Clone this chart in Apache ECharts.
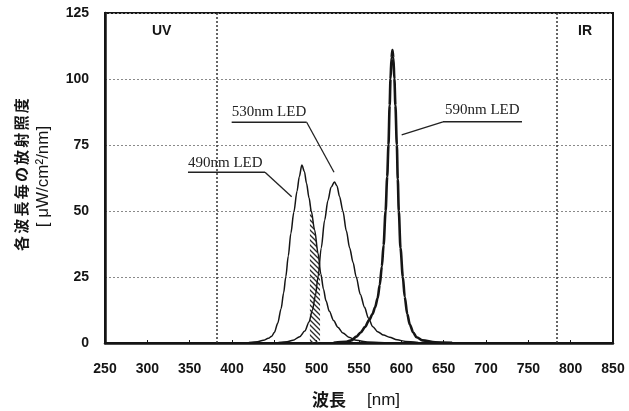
<!DOCTYPE html>
<html><head><meta charset="utf-8">
<script src="https://cdn.jsdelivr.net/npm/echarts@6/dist/echarts.min.js"></script>
<style>html,body{margin:0;padding:0;background:#fff}#c{width:629px;height:411px}</style>
</head><body><div id="c"></div>
<script>
// ---- data ----
const xTicks = [250,300,350,400,450,500,550,600,650,700,750,800,850];
const yTicks = [0,25,50,75,100,125];
const seriesNames = ['490nm LED','530nm LED','590nm LED'];
// [wavelength nm, irradiance µW/cm²/nm]
const led490 = [[420,0.2],[430,0.5],[437,1],[443,1.8],[447,2.6],[450,4],[454,7.5],[458,13],[461,19],[463.5,25],[466.5,33],[469.5,41.5],[473,49.5],[476.8,57.5],[479.5,63],[482.5,67.4],[485.5,65],[488,60.5],[491,55],[493.6,50],[497.6,42.8],[501.6,34],[505,26],[508,20.5],[511,16],[515,12],[520,8.5],[525,6],[531,3.8],[538,2.2],[547,1],[560,0.4],[580,0.1]];
const led530 = [[455,0.2],[465,0.5],[472,1],[480,2.4],[486,4.5],[491,8],[495,12.5],[498.5,18],[501.6,25],[505.4,36],[509.4,46.5],[513.3,54],[517,59],[521,61],[524,59.5],[527,55.5],[531,50],[535,42.5],[539,36],[543,30.5],[546.7,25],[551.5,18.5],[556.6,13.5],[561,9.5],[566.3,6.2],[572,4.3],[579,3],[586,2.2],[595,1.2],[605,0.6],[620,0.2]];
const led590 = [[520,0.1],[535,0.5],[541,1],[547,2.4],[552,4],[557,6],[562,8.7],[566,11],[569,13.5],[572,17],[574.5,22],[577,29],[579,37],[581.4,50],[583.3,63],[584.8,75],[586.2,90],[587.2,100],[588.4,108],[589.5,111],[590.6,108],[591.8,100],[593,90],[594.7,75],[595.8,62],[597,50],[599,36],[601.8,25],[604,17.5],[607,11],[610,7],[614,4],[618,2.2],[625,1],[640,0.3],[660,0.1]];
const hatch500 = [[492,53],[494,49.2],[496,45.8],[498,42],[500,37.5],[502,33],[504,28.5]];
const regionLines = [382, 784];
const regionLabels = ['UV','IR'];
const regionLabelPos = [[317,118],[817,118]];
// annotation anchors in data space: text left, underline start, underline end, leader tip
const annotations = [
  {text:'490nm LED', at:[348,68.2], u0:[348,64.7], u1:[439,64.7], tip:[470.5,55.4], from:'u1'},
  {text:'530nm LED', at:[399.6,87.6], u0:[399.6,83.6], u1:[488.2,83.6], tip:[520.5,64.7], from:'u1'},
  {text:'590nm LED', at:[651.6,88.3], u0:[649.2,83.8], u1:[742.5,83.8], tip:[600.4,78.8], from:'u0'}
];
const yTitle1 = '各波長毎の放射照度';
const yTitle2 = '[ μW/cm²/nm]';
const xTitleA = '波長';
const xTitleB = '[nm]';

// ---- chart ----
const chart = echarts.init(document.getElementById('c'), null, {renderer:'canvas'});
const pc = document.createElement('canvas'); pc.width = 5; pc.height = 5;
const g = pc.getContext('2d'); g.strokeStyle = '#2a2a2a'; g.lineWidth = 1.3;
g.beginPath(); g.moveTo(-1,-1); g.lineTo(6,6); g.moveTo(-1,4); g.lineTo(1,6); g.moveTo(4,-1); g.lineTo(6,1); g.stroke();

const ink = '#151515';
const numFont = '"Liberation Sans", Arial, sans-serif';
const lineSeries = (name, data, w) => ({
  name, type:'line', data, smooth:0.3, smoothMonotone:'x', symbol:'none', z:3,
  lineStyle:{color:ink, width:w}
});

chart.setOption({
  animation:false,
  backgroundColor:'#fff',
  grid:{left:105, right:16, top:13, bottom:68, show:true, borderColor:ink, borderWidth:2, backgroundColor:'transparent'},
  xAxis:{type:'value', min:xTicks[0], max:xTicks[xTicks.length-1], interval:50,
    axisLine:{show:true, onZero:false, lineStyle:{color:ink, width:2.5}},
    axisTick:{show:true, inside:true, length:3, lineStyle:{color:ink}},
    splitLine:{show:false},
    axisLabel:{margin:19, color:ink, fontFamily:numFont, fontWeight:'bold', fontSize:14}},
  yAxis:{type:'value', min:yTicks[0], max:yTicks[yTicks.length-1], interval:25,
    axisLine:{show:true, lineStyle:{color:ink, width:2.5}},
    axisTick:{show:false},
    splitLine:{show:true, lineStyle:{color:'#8a8a8a', width:1, type:[2,2]}},
    axisLabel:{margin:16, color:ink, fontFamily:numFont, fontWeight:'bold', fontSize:14}},
  series:[
    {name:'hatch', type:'line', data:hatch500, smooth:0.3, symbol:'none', z:2,
     lineStyle:{width:0}, areaStyle:{color:{image:pc, repeat:'repeat'}, opacity:1, origin:'start'}},
    Object.assign(lineSeries(seriesNames[0], led490, 1.5), {
      markLine:{silent:true, symbol:'none', label:{show:false},
        lineStyle:{color:'#333', width:1.5, type:[2,2]},
        data:regionLines.map(v=>({xAxis:v}))}
    }),
    lineSeries(seriesNames[1], led530, 1.5),
    lineSeries(seriesNames[2], led590, 2.6)
  ]
});

const P = p => chart.convertToPixel({gridIndex:0}, p);
const graphics = [];
const serif = '"Liberation Serif", "Times New Roman", serif';
annotations.forEach(a => {
  const t = P(a.at), u0 = P(a.u0), u1 = P(a.u1), tip = P(a.tip), f = a.from === 'u0' ? u0 : u1;
  graphics.push({type:'text', x:t[0], y:t[1], style:{text:a.text, font:'15px ' + serif, fill:'#222', align:'left', verticalAlign:'middle'}});
  graphics.push({type:'line', shape:{x1:u0[0], y1:u0[1], x2:u1[0], y2:u1[1]}, style:{stroke:'#222', lineWidth:1.5}});
  graphics.push({type:'line', shape:{x1:f[0], y1:f[1], x2:tip[0], y2:tip[1]}, style:{stroke:'#222', lineWidth:1.3}});
});
regionLabels.forEach((s,i) => {
  const p = P(regionLabelPos[i]);
  graphics.push({type:'text', x:p[0], y:p[1], style:{text:s, font:'bold 14px ' + numFont, fill:ink, align:'center', verticalAlign:'middle'}});
});
// y-axis title, line 1: characters stacked bottom-to-top, rotated
const cjk = '"Noto Sans CJK JP", sans-serif';
for (let i = 0; i < yTitle1.length; i++) {
  graphics.push({type:'text', x:21.5, y:243.4 - 17.2*i, rotation:Math.PI/2,
    style:{text:yTitle1[i], font:'bold 15px ' + cjk, fill:ink, align:'center', verticalAlign:'middle'}});
}
graphics.push({type:'text', x:43, y:176.5, rotation:Math.PI/2,
  style:{text:yTitle2, font:'17px ' + numFont, fill:ink, align:'center', verticalAlign:'middle'}});
graphics.push({type:'text', x:329, y:400, style:{text:xTitleA, font:'bold 17px ' + cjk, fill:ink, align:'center', verticalAlign:'middle'}});
graphics.push({type:'text', x:383.5, y:400, style:{text:xTitleB, font:'17px ' + numFont, fill:ink, align:'center', verticalAlign:'middle'}});
chart.setOption({graphic:graphics});
</script></body></html>
